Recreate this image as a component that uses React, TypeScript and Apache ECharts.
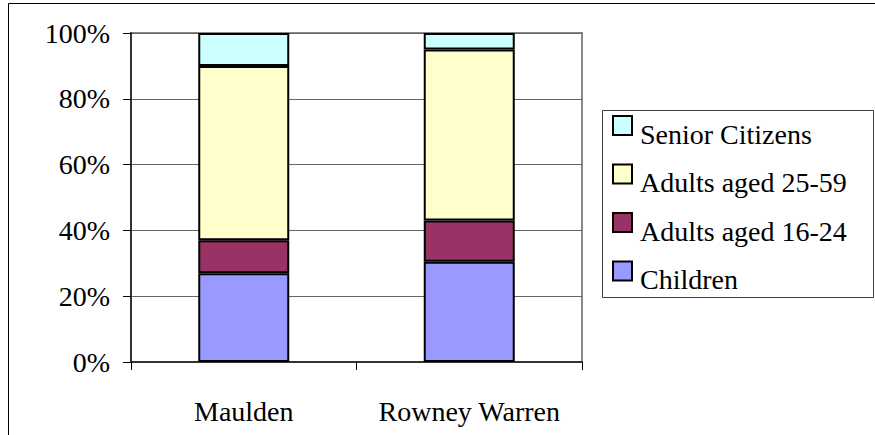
import React, { useEffect, useRef } from "react";
import * as echarts from "echarts";

const categories = ["Maulden", "Rowney Warren"];
const children = [27, 30.5];
const adults16to24 = [10, 12.5];
const adults25to59 = [53, 52];
const seniorCitizens = [10, 5];
const yTicks = { min: 0, max: 100, interval: 20 };

const FONT = "Liberation Serif, Times New Roman, serif";

export default function App() {
  const ref = useRef<HTMLDivElement>(null);
  useEffect(() => {
    if (!ref.current) return;
    const chart = echarts.init(ref.current, undefined, { renderer: "svg" });
    const mk = (name: string, data: number[], color: string) => ({
      name,
      type: "bar",
      stack: "total",
      data,
      barWidth: 91,
      itemStyle: { color, borderColor: "#000", borderWidth: 2 },
      emphasis: { disabled: true },
    });
    chart.setOption({
      animation: false,
      backgroundColor: "#fff",
      textStyle: { fontFamily: FONT },
      grid: {
        left: 131,
        top: 33,
        width: 451,
        height: 329,
        show: true,
        borderColor: "#888",
        borderWidth: 2,
        backgroundColor: "transparent",
      },
      xAxis: {
        type: "category",
        data: categories,
        axisLine: { lineStyle: { color: "#333", width: 2 } },
        axisTick: { show: true, length: 8, lineStyle: { color: "#000", width: 1 }, alignWithLabel: false },
        axisLabel: {
          interval: 0,
          fontFamily: FONT,
          fontSize: 28,
          color: "#000",
          margin: 49,
          verticalAlign: "middle",
        },
      },
      yAxis: {
        type: "value",
        min: yTicks.min,
        max: yTicks.max,
        interval: yTicks.interval,
        axisLine: { show: true, lineStyle: { color: "#333", width: 2 } },
        axisTick: { show: true, length: 8, lineStyle: { color: "#000", width: 1 } },
        splitLine: { show: true, lineStyle: { color: "#666", width: 1 } },
        axisLabel: {
          fontFamily: FONT,
          fontSize: 28,
          color: "#000",
          margin: 21,
          formatter: "{value}%",
        },
      },
      legend: {
        orient: "vertical",
        left: 612,
        top: 115,
        padding: 0,
        itemWidth: 19,
        itemHeight: 36,
        itemGap: 10.5,
        icon: "path://M0,0 H19 V19 H0 Z M0,36",
        data: ["Senior Citizens", "Adults aged 25-59", "Adults aged 16-24", "Children"],
        textStyle: {
          fontFamily: FONT,
          fontSize: 28,
          color: "#000",
          padding: [0, 0, 0, 3],
        },
        selectedMode: false,
      },
      graphic: [
        {
          type: "rect",
          shape: { x: 8.5, y: 3.5, width: 880, height: 450 },
          style: { fill: "none", stroke: "#000", lineWidth: 1 },
          silent: true,
          z: -10,
        },
        {
          type: "rect",
          shape: { x: 602.5, y: 110.5, width: 271, height: 187 },
          style: { fill: "none", stroke: "#404040", lineWidth: 1 },
          silent: true,
        },
      ],
      series: [
        mk("Children", children, "#9999FF"),
        mk("Adults aged 16-24", adults16to24, "#993366"),
        mk("Adults aged 25-59", adults25to59, "#FFFFCC"),
        mk("Senior Citizens", seniorCitizens, "#CCFFFF"),
      ],
    });
    return () => chart.dispose();
  }, []);
  return (
    <div
      ref={ref}
      style={{ position: "fixed", left: 0, top: 0, width: 875, height: 435 }}
    />
  );
}
